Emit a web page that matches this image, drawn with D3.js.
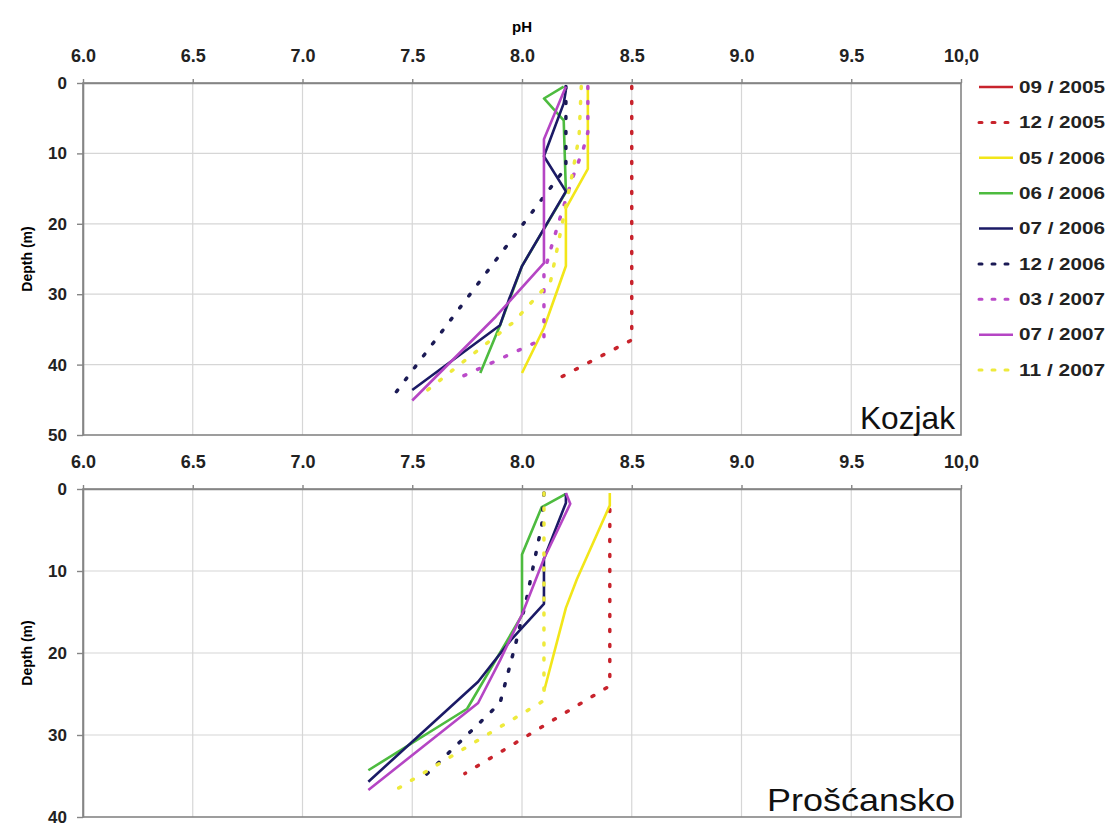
<!DOCTYPE html>
<html>
<head>
<meta charset="utf-8">
<script src="https://cdn.jsdelivr.net/npm/d3@7"></script>
<style>
    body { margin: 0; background: #fff; }
    svg { display: block; font-family: "Liberation Sans", Arial, sans-serif; }
</style>
</head>
<body>
<svg id="chart" width="1110" height="825"></svg>
<script>
// Series labels (legend order)
var seriesNames = ["09 / 2005", "12 / 2005", "05 / 2006", "06 / 2006", "07 / 2006", "12 / 2006", "03 / 2007", "07 / 2007", "11 / 2007"];

// pH axis ticks
var phTicks = [6.0, 6.5, 7.0, 7.5, 8.0, 8.5, 9.0, 9.5, 10.0];
var phTickLabels = ["6.0", "6.5", "7.0", "7.5", "8.0", "8.5", "9.0", "9.5", "10,0"];
var kozjakDepthTicks = [0, 10, 20, 30, 40, 50];
var proscanskoDepthTicks = [0, 10, 20, 30, 40];

// Kozjak profiles, [pH, depth m]
var kozjak_09_2005 = [];
var kozjak_12_2005 = [[8.5, 0.5], [8.5, 36.5], [8.14, 42.4]];
var kozjak_05_2006 = [[8.3, 0.5], [8.3, 12.2], [8.2, 17.8], [8.2, 26], [8.1, 34.8], [8.0, 41.2]];
var kozjak_06_2006 = [[8.19, 0.5], [8.1, 2.2], [8.19, 5.3], [8.2, 15.5], [8.0, 26], [7.9, 34.4], [7.81, 41.2]];
var kozjak_07_2006 = [[8.2, 1], [8.19, 2.9], [8.1, 10.4], [8.2, 15.4], [8.0, 26], [7.94, 30.8], [7.9, 34.4], [7.5, 43.6]];
var kozjak_12_2006 = [[8.2, 0.5], [8.2, 12], [7.4, 45]];
var kozjak_03_2007 = [[8.3, 0.5], [8.3, 7], [8.28, 9.3], [8.23, 13.5], [8.17, 19.5], [8.13, 23.7], [8.1, 27], [8.1, 36.3], [7.72, 41.8]];
var kozjak_07_2007 = [[8.2, 0.5], [8.1, 8], [8.1, 25.6], [7.88, 33.2], [7.5, 45.1]];
var kozjak_11_2007 = [[8.27, 0.5], [8.26, 7.6], [8.23, 12.8], [8.13, 28.2], [7.96, 34], [7.55, 44.1]];

// Proscansko profiles, [pH, depth m]
var proscansko_09_2005 = [];
var proscansko_12_2005 = [[8.4, 2.5], [8.4, 24], [7.74, 34.7]];
var proscansko_05_2006 = [[8.4, 0.5], [8.4, 2], [8.25, 11], [8.2, 14.5], [8.1, 24.7]];
var proscansko_06_2006 = [[8.2, 0.6], [8.09, 2.2], [8.0, 8], [8.0, 15.4], [7.75, 26.8], [7.3, 34.3]];
var proscansko_07_2006 = [[8.2, 0.5], [8.2, 1.7], [8.1, 8.5], [8.1, 14], [7.95, 18.4], [7.8, 23.5], [7.3, 35.7]];
var proscansko_12_2006 = [[8.1, 0.5], [8.09, 4.4], [8.02, 13.5], [7.97, 19], [7.9, 26.1], [7.53, 35.7]];
var proscansko_03_2007 = [];
var proscansko_07_2007 = [[8.2, 0.5], [8.22, 1.8], [8.1, 8.5], [8.0, 15.3], [7.9, 20.9], [7.8, 26.1], [7.3, 36.7]];
var proscansko_11_2007 = [[8.1, 0.5], [8.1, 25.8], [7.43, 36.6]];

var seriesStyle = [
    { color: "#c8232c", dash: null },
    { color: "#c8232c", dash: "2 13" },
    { color: "#f2e619", dash: null },
    { color: "#4dbb3f", dash: null },
    { color: "#1b1a66", dash: null },
    { color: "#1b1a55", dash: "2 13" },
    { color: "#bb4ac9", dash: "2 13" },
    { color: "#b545c4", dash: null },
    { color: "#eeea3c", dash: "2 13" }
];

var kozjakData = [kozjak_09_2005, kozjak_12_2005, kozjak_05_2006, kozjak_06_2006, kozjak_07_2006,
    kozjak_12_2006, kozjak_03_2007, kozjak_07_2007, kozjak_11_2007];
var proscanskoData = [proscansko_09_2005, proscansko_12_2005, proscansko_05_2006, proscansko_06_2006, proscansko_07_2006,
    proscansko_12_2006, proscansko_03_2007, proscansko_07_2007, proscansko_11_2007];

var svg = d3.select("#chart");
var left = 83, right = 961;

var x = d3.scaleLinear().domain([6, 10]).range([left, right]);

drawPanel(kozjakData, [0, 50], 83, 435, kozjakDepthTicks, "Kozjak", 95);
drawPanel(proscanskoData, [0, 40], 489, 817, proscanskoDepthTicks, "Prošćansko", 188);
drawLegend();

// Axis title
svg.append("text")
    .attr("x", x(8.0))
    .attr("y", 27)
    .attr("text-anchor", "middle")
    .attr("dy", "0.35em")
    .style("font-size", "15px")
    .style("font-weight", "bold")
    .text("pH");

function drawPanel(data, depthDomain, top, bottom, depthTicks, name, nameWidth) {
    var y = d3.scaleLinear().domain(depthDomain).range([top, bottom]);
    var g = svg.append("g");

    // Grid
    g.append("g").selectAll("line.vgrid")
        .data(phTicks.slice(1, -1))
        .enter().append("line")
        .attr("x1", function (d) { return x(d); })
        .attr("x2", function (d) { return x(d); })
        .attr("y1", top).attr("y2", bottom)
        .attr("stroke", "#d6d6d6").attr("stroke-width", 1.2);

    g.append("g").selectAll("line.hgrid")
        .data(depthTicks.slice(1, -1))
        .enter().append("line")
        .attr("x1", left).attr("x2", right)
        .attr("y1", function (d) { return y(d); })
        .attr("y2", function (d) { return y(d); })
        .attr("stroke", "#d6d6d6").attr("stroke-width", 1.2);

    // Frame
    g.append("rect")
        .attr("x", left).attr("y", top)
        .attr("width", right - left).attr("height", bottom - top)
        .attr("fill", "none").attr("stroke", "#858585").attr("stroke-width", 1.6);

    var line = d3.line()
        .x(function (d) { return x(d[0]); })
        .y(function (d) { return y(d[1]); });

    data.forEach(function (points, i) {
        if (!points.length) return;
        var st = seriesStyle[i];
        g.append("path")
            .attr("d", line(points))
            .attr("fill", "none")
            .attr("stroke", st.color)
            .attr("stroke-width", st.dash ? 3.5 : 2.6)
            .attr("stroke-linecap", st.dash ? "round" : "butt")
            .attr("stroke-linejoin", "round")
            .attr("stroke-dasharray", st.dash);
    });

    // pH axis on top
    var xAxis = g.append("g")
        .attr("transform", "translate(0," + top + ")")
        .call(d3.axisTop(x).tickValues(phTicks)
            .tickFormat(function (d, i) { return phTickLabels[i]; })
            .tickSize(4).tickSizeOuter(0).tickPadding(17));
    styleAxis(xAxis, "18px");

    var yAxis = g.append("g")
        .attr("transform", "translate(" + left + ",0)")
        .call(d3.axisLeft(y).tickValues(depthTicks).tickSize(6).tickSizeOuter(0).tickPadding(10));
    styleAxis(yAxis, "17px");

    g.append("text")
        .attr("transform", "translate(27," + ((top + bottom) / 2) + ") rotate(-90)")
        .attr("text-anchor", "middle")
        .attr("dy", "0.35em")
        .style("font-size", "14px")
        .style("font-weight", "bold")
        .text("Depth (m)");

    g.append("text")
        .attr("x", 955)
        .attr("y", bottom - 6)
        .attr("text-anchor", "end")
        .attr("textLength", nameWidth)
        .attr("lengthAdjust", "spacingAndGlyphs")
        .style("font-size", "32px")
        .style("fill", "#111")
        .text(name);
}

function styleAxis(axis, fontSize) {
    axis.select(".domain").attr("stroke", "#858585").attr("stroke-width", 1.6);
    axis.selectAll(".tick line").attr("stroke", "#858585").attr("stroke-width", 1.4);
    axis.selectAll(".tick text")
        .style("font-family", "'Liberation Sans', Arial, sans-serif")
        .style("font-size", fontSize)
        .style("font-weight", "bold")
        .style("fill", "#222");
}

function drawLegend() {
    var legend = svg.append("g");
    var ly = d3.scaleLinear().domain([0, 8]).range([87, 370]);

    seriesNames.forEach(function (name, i) {
        var st = seriesStyle[i];
        legend.append("line")
            .attr("x1", 979).attr("x2", 1013)
            .attr("y1", ly(i)).attr("y2", ly(i))
            .attr("stroke", st.color)
            .attr("stroke-width", st.dash ? 3 : 2.5)
            .attr("stroke-linecap", st.dash ? "round" : "butt")
            .attr("stroke-dasharray", st.dash ? "3 10" : null);
        legend.append("text")
            .attr("x", 1019)
            .attr("y", ly(i))
            .attr("dy", "0.36em")
            .attr("textLength", 86)
            .attr("lengthAdjust", "spacingAndGlyphs")
            .style("font-size", "16px")
            .style("font-weight", "bold")
            .style("fill", "#222")
            .text(name);
    });
}
</script>
</body>
</html>
